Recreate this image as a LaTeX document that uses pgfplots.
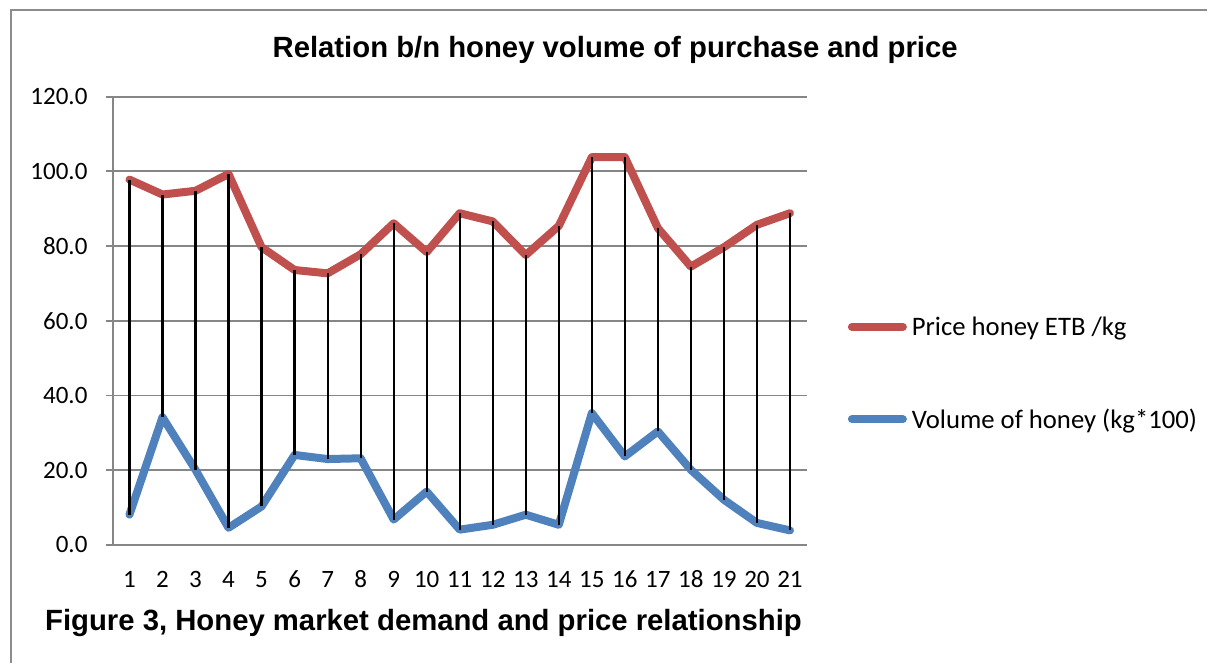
\documentclass[border=0pt]{standalone}
\usepackage{fontspec}
\setmainfont{Carlito}
\newfontfamily\arialb{Liberation Sans}[BoldFont={* Bold}]
\usepackage{pgfplots}
\usepackage{pgfplotstable}
\pgfplotsset{compat=1.18}
\definecolor{pricered}{HTML}{C0504D}
\definecolor{volblue}{HTML}{4F81BD}
\definecolor{gridgray}{HTML}{868686}
\definecolor{framegray}{HTML}{8C8C8C}
\pgfplotstableread{
x price volume
1 97.8 8.1
2 93.8 34.2
3 94.8 20.1
4 99.3 4.6
5 79.7 10.3
6 73.6 24.1
7 72.7 23.0
8 77.8 23.2
9 86.1 6.8
10 78.4 14.3
11 88.8 4.1
12 86.6 5.4
13 77.6 8.1
14 85.4 5.4
15 103.8 35.3
16 103.8 23.7
17 84.8 30.4
18 74.5 20.1
19 79.7 12.1
20 85.7 5.9
21 88.8 3.9
}\honeydata
\begin{document}
\begin{tikzpicture}
\path (0,0) rectangle (1208bp,-663bp);
\draw[framegray, line width=1.5bp] (11bp,-663bp) -- (11bp,-10bp) -- (1208bp,-10bp);
\node[font=\arialb\bfseries\fontsize{29.3bp}{34bp}\selectfont, anchor=base] at (615.5bp,-57.7bp) {Relation b/n honey volume of purchase and price};
\node[font=\arialb\bfseries\fontsize{29.3bp}{34bp}\selectfont, anchor=base west, inner sep=0pt] at (45bp,-630.7bp) {Figure 3, Honey market demand and price relationship};
\begin{axis}[
  at={(113bp,-545.3bp)}, anchor=south west,
  scale only axis, width=694bp, height=448.6bp,
  xmin=0.5, xmax=21.5, ymin=0, ymax=120,
  xtick={1,...,21}, ytick={0,20,...,120},
  axis lines*=left,
  axis line style={draw=gridgray, line width=1.8bp},
  ymajorgrids, grid style={draw=gridgray, line width=1.8bp},
  tick align=outside, major tick length=7bp,
  ytick style={draw=gridgray, line width=1.8bp},
  xtick style={draw=none},
  tick label style={font=\fontsize{25bp}{30bp}\selectfont},
  typeset ticklabels with strut,
  /pgf/number format/assume math mode=true,
  yticklabel={\pgfmathprintnumber[fixed,fixed zerofill,precision=1]{\tick}},
  yticklabel style={anchor=east, xshift=-15bp},
  xticklabel style={anchor=north, yshift=-11bp},
  clip=false,
  legend image code/.code={\draw[#1] (0bp,0bp) -- (51bp,0bp);},
  legend style={at={(axis description cs:1.0594,0.383)}, anchor=west, draw=none, fill=none,
    inner sep=0pt, row sep=72bp, column sep=5bp,
    font=\fontsize{26.7bp}{31bp}\selectfont,
    nodes={inner sep=0pt}},
  legend cell align=left,
]
\addplot[pricered, line width=8bp, line cap=round, line join=round] table[x=x, y=price] {\honeydata};
\addlegendentry{Price honey ETB /kg}
\addplot[volblue, line width=8bp, line cap=round, line join=round] table[x=x, y=volume] {\honeydata};
\addlegendentry{Volume of honey (kg*100)}
\addplot[draw=none, mark=none, forget plot,
  error bars/.cd, y dir=plus, y explicit, error mark=none,
  error bar style={black, line width=2.2bp}]
  table[x=x, y=volume, y error expr=\thisrow{price}-\thisrow{volume}] {\honeydata};
\end{axis}
\end{tikzpicture}
\end{document}
